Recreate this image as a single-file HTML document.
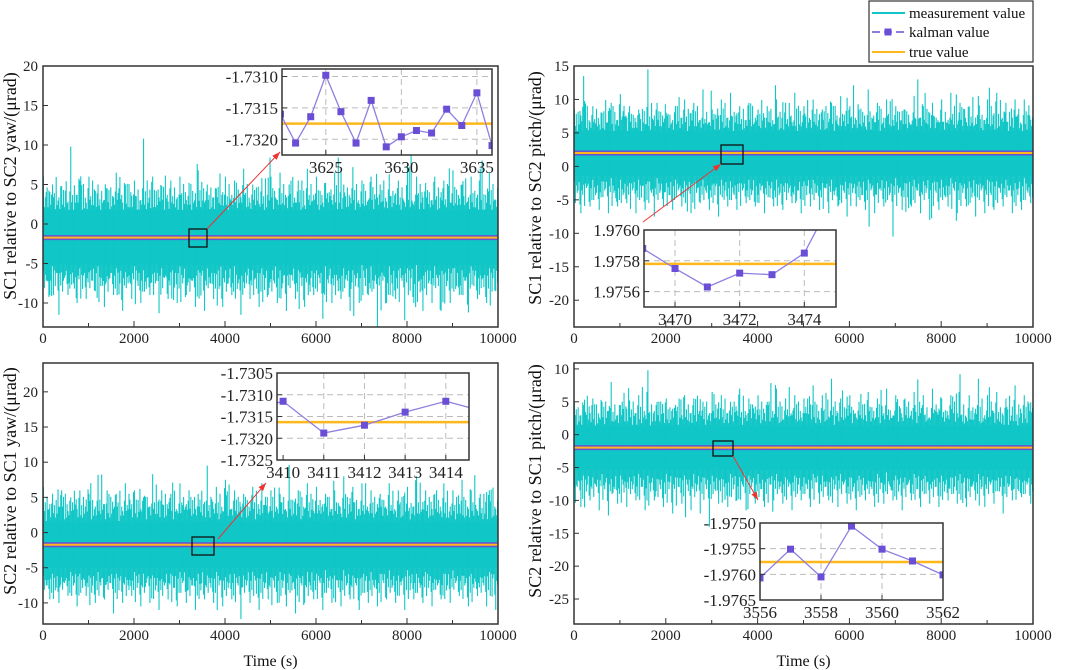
<!DOCTYPE html>
<html><head><meta charset="utf-8"><style>
html,body{margin:0;padding:0;background:#fff;}
svg{display:block;font-family:"Liberation Serif",serif;}
</style></head><body>
<svg id="fig" width="1065" height="670" viewBox="0 0 1065 670" xmlns="http://www.w3.org/2000/svg"></svg>
<script>
// ---------- data ----------
const tlUp = [6,5,4.8,9.8,5.5,6,5,4.5,6.5,5,5.5,10.8,6,4.8,5.5,6,5.2,6.8,5,4.5,6,5.5,7,5,5.8,6,6.5,5,5.5,7,6,5.2,6.5,5,7.2,5.5,6,5,6.3,5.5,7.5,6,5.2,6,5.5,6.8,5,6,7,6.5];
const tlDn = [-11,-10,-9,-11.2,-9.5,-10,-8.5,-9,-11.5,-9,-10,-9.5,-8.5,-10.5,-9,-11,-9.5,-10,-9,-11.3,-9.5,-10,-9,-10.5,-11,-9.5,-10.5,-9,-11.5,-9.5,-10.5,-9,-10,-11,-9.5,-10.5,-9,-12,-10,-9.5,-11,-10,-9,-13,-10,-9.5,-12.2,-10,-11,-10];
const trUp = [8.5,13.5,9,8,9.5,10.8,9,8.5,14.5,9.5,8,9,10,9.5,11.5,8.5,10,11,9,9.5,8.5,9,10,9.5,11,9,10,8.5,9.5,10.5,9,8.5,11.5,9.5,10,9,8.5,10.5,9,9.5,10,11,9.5,9,10.5,10,11,9.5,10,10];
const trDn = [-7.5,-7,-6.5,-6,-7,-6.5,-5.5,-7,-6,-6.5,-7,-6,-5.5,-7,-6.5,-7.5,-6,-6.5,-6,-7,-5.5,-6.5,-7.5,-6,-6.5,-5.5,-6,-7,-6,-6.5,-5.5,-7,-6,-6.5,-7,-6,-7.5,-6,-6.5,-7,-6,-10.5,-6.5,-6,-7,-8,-6.5,-6,-7,-6];
const blUp = [6.5,5.5,6,5,6,5.5,8.2,6,5.5,7,6,5,8.3,6,5.5,7,6,5.5,9.5,6.5,7.5,6,5.5,6.5,7,6,5.5,9.6,6,7,6.5,5.5,6,8,6.5,7,6,5.5,7,6,6.5,8,6,5.5,7,6,7.5,6,5.5,6];
const blDn = [-9.5,-10,-9,-10.5,-9,-10.5,-11,-9.5,-10,-9,-10.5,-9,-10,-9.5,-11.5,-10,-9,-10.5,-10,-11,-9.5,-10.5,-10,-11,-9.5,-10,-10.5,-9.5,-12.3,-10,-11,-9.5,-10,-10.5,-11.5,-10,-9.5,-11,-10,-10.5,-9.5,-11,-10,-10.5,-9.5,-10,-11,-9.5,-10,-10.5];
const brUp = [5,4.5,5.5,5,8,4.5,5.2,6,9.8,5,5.5,4.5,6,5.5,5,6.5,6,5,7,5.5,6,5,7,5.5,6,5.5,7.5,6,8.5,5.5,6,5,6.5,5.5,7,6,5.5,6.5,6,7,5.5,6,9.2,6,8.5,6,6.5,5.5,7.5,6];
const brDn = [-10,-11,-10.5,-12,-10,-9.5,-10.5,-11,-10,-11.5,-12.3,-10.5,-11,-10,-11.5,-10,-11,-12,-10.5,-11.5,-12,-14,-10.5,-11,-10,-11.5,-10.5,-11,-10,-10.5,-11.5,-10,-11,-10.5,-10,-11,-10.5,-11.5,-10,-11,-10.5,-10,-11.5,-10,-11,-10.5,-11,-10,-10.5,-11];
const tlKx = [3622,3623,3624,3625,3626,3627,3628,3629,3630,3631,3632,3633,3634,3635,3636];
const tlKy = [-1.7316,-1.73206,-1.73164,-1.73098,-1.73156,-1.73206,-1.73138,-1.73212,-1.73196,-1.73186,-1.7319,-1.73152,-1.73178,-1.73126,-1.7321];
const trKx = [3469,3470,3471,3472,3473,3474,3475];
const trKy = [1.97588,1.97575,1.97563,1.97572,1.97571,1.97585,1.97625];
const blKx = [3409,3410,3411,3412,3413,3414,3415];
const blKy = [-1.7314,-1.73115,-1.73188,-1.7317,-1.7314,-1.73115,-1.7314];
const brKx = [3556,3557,3558,3559,3560,3561,3562];
const brKy = [-1.97607,-1.97551,-1.97605,-1.97506,-1.97551,-1.97574,-1.97601];
const tlTrue = -1.73175, trTrue = 1.97578, blTrue = -1.73163, brTrue = -1.97576;
const xTicks = [0,2000,4000,6000,8000,10000];

// ---------- helpers ----------
const NS = "http://www.w3.org/2000/svg";
const fig = document.getElementById('fig');
function mk(tag, attrs, parent, txt){
  const e = document.createElementNS(NS, tag);
  for (const k in attrs) e.setAttribute(k, attrs[k]);
  if (txt !== undefined) e.textContent = txt;
  (parent || fig).appendChild(e);
  return e;
}
const TEAL = "#10c6c6", PURP = "#6a4fd6", ORNG = "#ffb81c";
const subF = [1,0.62,0.78,0.5,0.88,0.57,0.7,0.66,0.54,0.81];
const subK = [0,7,13,3,21,9,17,29,5,37];

function panel(p){
  const g = mk('g', {});
  
  
  const sx = v => p.L + (v - 0) / 10000 * (p.R - p.L);
  const sy = v => p.B - (v - p.ymin) / (p.ymax - p.ymin) * (p.B - p.T);
  const clip = 'clip-' + p.name;
  const cp = mk('clipPath', {id: clip}, g);
  mk('rect', {x: p.L, y: p.T, width: p.R - p.L, height: p.B - p.T}, cp);
  const dg = mk('g', {'clip-path': 'url(#' + clip + ')'}, g);
  const core = mk('rect', {x: p.L, y: sy(p.coreHi), width: p.R - p.L, height: sy(p.coreLo) - sy(p.coreHi), fill: TEAL}, dg);
  
  
  const N = p.up.length;
  const S = subF.length;
  for (let i = 0; i < N; i++) {
    for (let s = 0; s < S; s++) {
      const xv = sx((i + (s + 0.5) / S) * 10000 / N);
      const ku = (i + subK[s]) % N, kd = (i + subK[(s + 4) % S]) % N;
      const fu = s === 0 ? 1 : subF[s], fd = subF[(s + 3) % S];
      const su = mk('line', {x1: xv, x2: xv, y1: sy(p.mean), y2: sy(p.mean + (p.up[ku] - p.mean) * fu), stroke: TEAL, 'stroke-width': 1.1}, dg);
      
      
      const sd = mk('line', {x1: xv, x2: xv, y1: sy(p.mean), y2: sy(p.mean + (p.dn[kd] - p.mean) * fd), stroke: TEAL, 'stroke-width': 1.1}, dg);
      
      
    }
  }
  const kl = mk('line', {x1: p.L, x2: p.R, y1: sy(p.mean), y2: sy(p.mean), stroke: PURP, 'stroke-width': 5}, dg);
  
  
  const tl = mk('line', {x1: p.L, x2: p.R, y1: sy(p.mean), y2: sy(p.mean), stroke: ORNG, 'stroke-width': 2}, dg);
  
  
  const fr = mk('rect', {x: p.L, y: p.T, width: p.R - p.L, height: p.B - p.T, fill: 'none', stroke: '#333', 'stroke-width': 1.5}, g);
  
  
  for (let v = 0; v <= 10000; v += 1000) {
    const big = v % 2000 === 0;
    mk('line', {x1: sx(v), x2: sx(v), y1: p.B, y2: p.B - (big ? 6 : 4), stroke: '#333', 'stroke-width': 1}, g);
  }
  xTicks.forEach(v => {
    const t = mk('text', {x: sx(v), y: p.B + 16, 'font-size': 15, 'text-anchor': 'middle', fill: '#222'}, g, String(v));
    
    
  });
  p.yTicks.forEach(v => {
    mk('line', {x1: p.L, x2: p.L + 5, y1: sy(v), y2: sy(v), stroke: '#333', 'stroke-width': 1}, g);
    const t = mk('text', {x: p.L - 5, y: sy(v) + 5, 'font-size': 15, 'text-anchor': 'end', fill: '#222'}, g, String(v));
    
    
  });
  const yt = mk('text', {x: p.titleX, y: p.titleY, 'font-size': 18, 'text-anchor': 'middle', fill: '#111', transform: 'rotate(-90 ' + p.titleX + ' ' + p.titleY + ')'}, g, p.title);
  
  
  if (p.xlabel) {
    const xt = mk('text', {x: (p.L + p.R) / 2, y: 666, 'font-size': 16, 'text-anchor': 'middle', fill: '#111'}, g, 'Time (s)');
    
    
  }
  const zb = mk('rect', {x: p.box[0], y: p.box[1], width: p.box[2], height: p.box[3], fill: 'none', stroke: '#111', 'stroke-width': 1.3}, g);
  
  
  const a = p.arrow;
  const ar = mk('line', {x1: a[0], y1: a[1], x2: a[2], y2: a[3], stroke: '#ee3333', 'stroke-width': 1}, g);
  
  
  const hx = a[4], hy = a[5], ang = Math.atan2(a[5] - a[7], a[4] - a[6]);
  const pts = [[hx, hy], [hx - 8 * Math.cos(ang) + 3 * Math.sin(ang), hy - 8 * Math.sin(ang) - 3 * Math.cos(ang)], [hx - 8 * Math.cos(ang) - 3 * Math.sin(ang), hy - 8 * Math.sin(ang) + 3 * Math.cos(ang)]];
  mk('polygon', {points: pts.map(q => q.join(',')).join(' '), fill: '#ee3333'}, g);
  inset(p.inset, g);
}

function inset(q, parent){
  const g = mk('g', {}, parent);
  
  
  const sx = v => q.L + (v - q.xmin) / (q.xmax - q.xmin) * (q.R - q.L);
  const sy = v => q.B - (v - q.ymin) / (q.ymax - q.ymin) * (q.B - q.T);
  mk('rect', {x: q.L, y: q.T, width: q.R - q.L, height: q.B - q.T, fill: '#fff'}, g);
  const clip = 'clip-in-' + q.name;
  const cp = mk('clipPath', {id: clip}, g);
  mk('rect', {x: q.L, y: q.T, width: q.R - q.L, height: q.B - q.T}, cp);
  const dg = mk('g', {'clip-path': 'url(#' + clip + ')'}, g);
  q.gx.forEach(v => mk('line', {x1: sx(v), x2: sx(v), y1: q.T, y2: q.B, stroke: '#bbb', 'stroke-dasharray': '6 4', 'stroke-width': 1}, dg));
  q.gy.forEach(v => mk('line', {x1: q.L, x2: q.R, y1: sy(v), y2: sy(v), stroke: '#bbb', 'stroke-dasharray': '6 4', 'stroke-width': 1}, dg));
  const tv = mk('line', {x1: q.L, x2: q.R, y1: sy(q.tv), y2: sy(q.tv), stroke: ORNG, 'stroke-width': 2.5}, dg);
  
  
  const pl = mk('polyline', {points: q.kx.map((x, i) => sx(x) + ',' + sy(q.ky[i])).join(' '), fill: 'none', stroke: '#8f7fe0', 'stroke-width': 1.3}, dg);
  
  
  q.kx.forEach((x, i) => {
    const m = mk('rect', {x: sx(x) - 3.5, y: sy(q.ky[i]) - 3.5, width: 7, height: 7, fill: PURP}, dg);
    
    
  });
  mk('rect', {x: q.L, y: q.T, width: q.R - q.L, height: q.B - q.T, fill: 'none', stroke: '#333', 'stroke-width': 1.5}, g);
  q.xt.forEach(v => {
    mk('line', {x1: sx(v), x2: sx(v), y1: q.B, y2: q.B - 5, stroke: '#333'}, g);
    const t = mk('text', {x: sx(v), y: q.B + 18, 'font-size': 17, 'text-anchor': 'middle', fill: '#222'}, g, String(v));
    
    
  });
  q.yt.forEach(v => {
    mk('line', {x1: q.L, x2: q.L + 5, y1: sy(v), y2: sy(v), stroke: '#333'}, g);
    const t = mk('text', {x: q.L - 4, y: sy(v) + 6, 'font-size': 17, 'text-anchor': 'end', fill: '#222'}, g, v.toFixed(4));
    
    
  });
}

panel({name:'panel-sc1-sc2-yaw', L:43, R:498, T:66, B:327, ymin:-13.04, ymax:20, mean:-1.73, coreHi:1.8, coreLo:-5.2,
  up:tlUp, dn:tlDn, yTicks:[20,15,10,5,0,-5,-10], title:'SC1 relative to SC2 yaw/(μrad)', titleX:16, titleY:186,
  box:[189,229,18,18], arrow:[207,229,280,152,280,152,207,229],
  inset:{name:'tl', L:282, R:492, T:69, B:155, xmin:3622.1, xmax:3636.0, ymin:-1.73225, ymax:-1.73088,
    gx:[3625,3630,3635], gy:[-1.7310,-1.7315,-1.7320], xt:[3625,3630,3635], yt:[-1.7310,-1.7315,-1.7320], kx:tlKx, ky:tlKy, tv:tlTrue}});
panel({name:'panel-sc1-sc2-pitch', L:574, R:1033, T:66, B:327, ymin:-24, ymax:15, mean:2.0, coreHi:5.3, coreLo:-1.4,
  up:trUp, dn:trDn, yTicks:[15,10,5,0,-5,-10,-15,-20], title:'SC1 relative to SC2 pitch/(μrad)', titleX:541, titleY:188,
  box:[721,145,22,19], arrow:[643,222,721,164,721,164,643,222],
  inset:{name:'tr', L:644, R:836, T:230, B:307, xmin:3469.04, xmax:3474.98, ymin:1.97550, ymax:1.97600,
    gx:[3470,3472,3474], gy:[1.9758,1.9756], xt:[3470,3472,3474], yt:[1.9760,1.9758,1.9756], kx:trKx, ky:trKy, tv:trTrue}});
panel({name:'panel-sc2-sc1-yaw', L:43, R:498, T:363, B:624, ymin:-13, ymax:24.1, mean:-1.73, coreHi:1.6, coreLo:-5.0,
  up:blUp, dn:blDn, yTicks:[20,15,10,5,0,-5,-10], title:'SC2 relative to SC1 yaw/(μrad)', titleX:16, titleY:481, xlabel:true,
  box:[192,537,22,18], arrow:[218,539,266,483,266,483,218,539],
  inset:{name:'bl', L:277, R:469, T:373, B:460, xmin:3409.85, xmax:3414.57, ymin:-1.7325, ymax:-1.7305,
    gx:[3411,3412,3413,3414], gy:[-1.7310,-1.7315,-1.7320], xt:[3410,3411,3412,3413,3414], yt:[-1.7305,-1.7310,-1.7315,-1.7320,-1.7325], kx:blKx, ky:blKy, tv:blTrue}});
panel({name:'panel-sc2-sc1-pitch', L:574, R:1033, T:363, B:624, ymin:-28.8, ymax:10.9, mean:-1.98, coreHi:1.4, coreLo:-5.4,
  up:brUp, dn:brDn, yTicks:[10,5,0,-5,-10,-15,-20,-25], title:'SC2 relative to SC1 pitch/(μrad)', titleX:541, titleY:481, xlabel:true,
  box:[713,441,20,15], arrow:[733,456,758,500,758,500,733,456],
  inset:{name:'br', L:760, R:943, T:523, B:600, xmin:3556, xmax:3562, ymin:-1.9765, ymax:-1.9750,
    gx:[3558,3560], gy:[-1.9755,-1.9760], xt:[3556,3558,3560,3562], yt:[-1.9750,-1.9755,-1.9760,-1.9765], kx:brKx, ky:brKy, tv:brTrue}});

// legend
const lg = mk('g', {});


mk('rect', {x: 869, y: 1, width: 164, height: 61, fill: '#fff', stroke: '#333', 'stroke-width': 1.2}, lg);
const e1 = mk('g', {}, lg);


mk('line', {x1: 872, x2: 905, y1: 13, y2: 13, stroke: TEAL, 'stroke-width': 2}, e1);
mk('text', {x: 909, y: 18, 'font-size': 15, fill: '#111'}, e1, 'measurement value');
const e2 = mk('g', {}, lg);


mk('line', {x1: 872, x2: 905, y1: 32, y2: 32, stroke: PURP, 'stroke-width': 1.5, 'stroke-dasharray': '8 4'}, e2);
mk('rect', {x: 884.5, y: 28.5, width: 7, height: 7, fill: PURP}, e2);
mk('text', {x: 909, y: 37, 'font-size': 15, fill: '#111'}, e2, 'kalman value');
const e3 = mk('g', {}, lg);


mk('line', {x1: 872, x2: 905, y1: 52, y2: 52, stroke: ORNG, 'stroke-width': 2}, e3);
mk('text', {x: 909, y: 57, 'font-size': 15, fill: '#111'}, e3, 'true value');
</script>
</body></html>
